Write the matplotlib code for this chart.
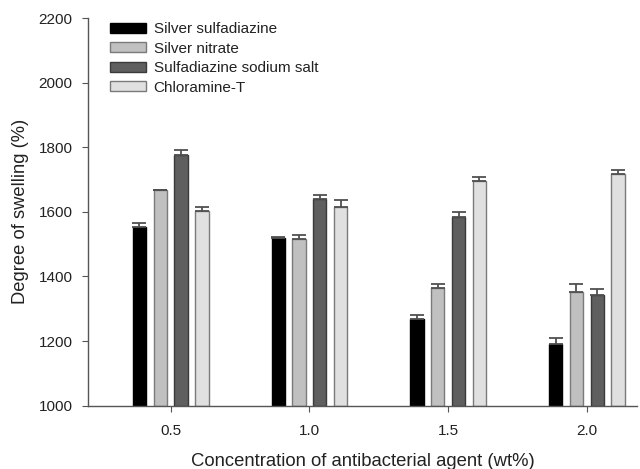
import matplotlib
matplotlib.use("Agg")
import matplotlib.pyplot as plt
import numpy as np

plt.rcParams['font.family'] = ['Liberation Sans', 'DejaVu Sans']

concentrations = [0.5, 1.0, 1.5, 2.0]
tick_labels = ["0.5", "1.0", "1.5", "2.0"]
series_names = ["Silver sulfadiazine", "Silver nitrate", "Sulfadiazine sodium salt", "Chloramine-T"]
silver_sulfadiazine = [1552, 1520, 1269, 1192]
silver_sulfadiazine_err = [12, 2, 12, 16]
silver_nitrate = [1667, 1515, 1363, 1351]
silver_nitrate_err = [2, 14, 15, 26]
sulfadiazine_sodium = [1776, 1641, 1584, 1343]
sulfadiazine_sodium_err = [15, 10, 14, 18]
chloramine_t = [1602, 1615, 1694, 1717]
chloramine_t_err = [14, 22, 14, 11]

values = [silver_sulfadiazine, silver_nitrate, sulfadiazine_sodium, chloramine_t]
errors = [silver_sulfadiazine_err, silver_nitrate_err, sulfadiazine_sodium_err, chloramine_t_err]
colors = ["#000000", "#c0c0c0", "#5f5f5f", "#e0e0e0"]
edges = ["#000000", "#7a7a7a", "#3a3a3a", "#7a7a7a"]

fig = plt.figure(figsize=(6.4, 4.69), dpi=100)
ax = fig.add_axes([0.1375, 0.135, 0.858, 0.8266])

width = 0.048
step = 0.075
x = np.array(concentrations)
for i, (vals, errs) in enumerate(zip(values, errors)):
    off = (i - 1.5) * step
    ax.bar(x + off, np.array(vals) - 1000, width=width, bottom=1000,
           color=colors[i], edgecolor=edges[i], linewidth=1.0,
           label=series_names[i], zorder=2)
    ax.errorbar(x + off, vals, yerr=[np.zeros(len(errs)), errs], fmt='none',
                ecolor="#505050", elinewidth=1.3, capsize=5, capthick=1.3, zorder=3)

ax.set_xlim(0.202, 2.181)
ax.set_ylim(1000, 2200)
ax.set_xticks(concentrations)
ax.set_xticklabels(tick_labels)
ax.set_yticks(np.arange(1000, 2201, 200))
for s in ['top', 'right']:
    ax.spines[s].set_visible(False)
for s in ['left', 'bottom']:
    ax.spines[s].set_color("#555555")
    ax.spines[s].set_linewidth(1.0)
ax.tick_params(axis='both', direction='out', length=4, color="#555555", labelsize=11, labelcolor="#222222")
ax.tick_params(axis='x', pad=9)
ax.tick_params(axis='y', pad=7)
ax.set_xlabel("Concentration of antibacterial agent (wt%)", fontsize=13.3, labelpad=11, color="#222222")
ax.set_ylabel("Degree of swelling (%)", fontsize=13.2, labelpad=7, color="#222222")

leg = ax.legend(loc='upper left', bbox_to_anchor=(0.015, 1.025), frameon=False,
                fontsize=11, handlelength=2.35, handleheight=0.65,
                labelspacing=0.36, handletextpad=0.5, borderpad=0.4)
for t in leg.get_texts():
    t.set_color("#222222")

fig.savefig("out.png", dpi=100)
